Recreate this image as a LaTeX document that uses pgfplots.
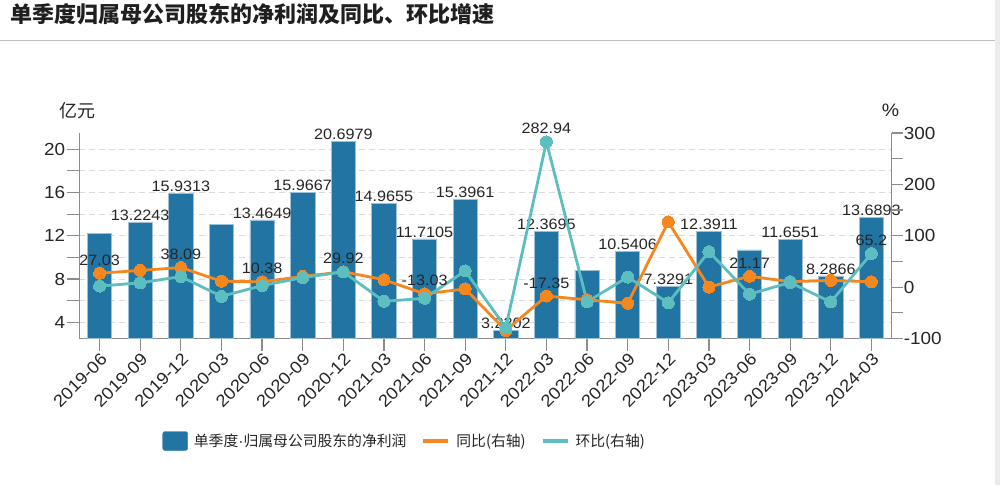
\documentclass[border=0pt]{standalone}
\usepackage{pgfplots}
\usepackage{pgfplotstable}
\pgfplotsset{compat=1.18}
\usepackage{fontspec}
\setmainfont{Liberation Sans}[FakeStretch=1.08]
\newfontfamily\cjk{Noto Sans CJK SC}
\definecolor{barblue}{RGB}{34,116,163}
\definecolor{yoy}{RGB}{245,135,31}
\definecolor{qoq}{RGB}{92,190,190}
\definecolor{axgray}{RGB}{140,140,140}
\definecolor{txt}{RGB}{38,38,38}
\definecolor{gridc}{RGB}{218,218,218}

\pgfplotstableread{
x bar
0 12.198
1 13.2243
2 15.9313
3 13.08
4 13.4649
5 15.9667
6 20.6979
7 14.9655
8 11.7105
9 15.3961
10 3.2302
11 12.3695
12 8.82
13 10.5406
14 7.3291
15 12.3911
16 10.69
17 11.6551
18 8.2866
19 13.6893
}\bars

\pgfplotstableread{
x y lab
1 13.2243 13.2243
2 15.9313 15.9313
4 13.4649 13.4649
5 15.9667 15.9667
6 20.6979 20.6979
7 14.9655 14.9655
8 11.7105 11.7105
9 15.3961 15.3961
10 3.2302 3.2302
11 12.3695 12.3695
13 10.5406 10.5406
14 7.3291 7.3291
15 12.3911 12.3911
17 11.6551 11.6551
18 8.2866 8.2866
19 13.6893 13.6893
}\barlabs

\pgfplotstableread{
x yoy qoq
0 27.03 2.0
1 32.5 8.41
2 38.09 20.47
3 11.5 -17.90
4 10.38 2.94
5 20.74 18.58
6 29.92 29.63
7 14.42 -27.70
8 -13.03 -21.75
9 -3.57 31.47
10 -84.39 -79.02
11 -17.35 282.94
12 -24.68 -28.70
13 -31.54 19.51
14 126.89 -30.47
15 0.17 69.07
16 21.17 -13.73
17 10.57 9.03
18 13.06 -28.90
19 10.48 65.20
}\rates

\pgfplotstableread{
x y lab
0 27.03 27.03
2 38.09 38.09
4 10.38 10.38
6 29.92 29.92
8 -13.03 -13.03
11 -17.35 -17.35
16 21.17 21.17
}\yoylabs

\pgfplotstableread{
x y lab
11 282.94 282.94
19 65.20 65.2
}\qoqlabs

\pgfplotsset{
  base/.style={
    at={(79.3pt,146.5pt)}, anchor=south west,
    scale only axis, width=812.4pt, height=205.5pt,
    xmin=-0.5, xmax=19.5,
    /pgf/number format/assume math mode=true,
  },
}
\tikzset{lbl/.style={font=\fontsize{15}{15}\selectfont, text=txt, inner sep=0pt, anchor=south}}

\begin{document}
\begin{tikzpicture}
\useasboundingbox (0,0) rectangle (1000pt,485pt);
\fill[white] (0,0) rectangle (1000pt,485pt);
\fill[black!8] (995pt,0) rectangle (1000pt,485pt);
\draw[black!25, line width=0.8pt] (0,445pt) -- (995pt,445pt);
\node[anchor=west, font=\cjk\bfseries\fontsize{22}{22}\selectfont, text=black!88] at (7pt,471pt) {单季度归属母公司股东的净利润及同比、环比增速};

% bars axis
\begin{axis}[base,
  ymin=2.5, ymax=21.5,
  axis y line*=left, axis x line*=bottom,
  axis line style={axgray, line width=1.2pt},
  tick style={axgray, line width=1.2pt},
  tick align=outside,
  major tick length=12pt,
  ytick={4,6,...,20},
  yticklabels={4,,8,,12,,16,,20},
  ymajorgrids,
  grid style={gridc, dash pattern=on 6pt off 4pt, line width=0.9pt},
  xtick={0,...,19},
  xticklabels={2019-06,2019-09,2019-12,2020-03,2020-06,2020-09,2020-12,2021-03,2021-06,2021-09,2021-12,2022-03,2022-06,2022-09,2022-12,2023-03,2023-06,2023-09,2023-12,2024-03},
  xticklabel style={rotate=45, anchor=north east, font=\fontsize{17}{17}\selectfont, text=txt, inner sep=1pt},
  yticklabel style={font=\fontsize{17.5}{17.5}\selectfont, text=txt, inner sep=2pt},
]
\addplot[ybar, bar width=24.3pt, fill=barblue, draw=barblue!45!white, line width=0.7pt] table[x=x,y=bar]{\bars};
\end{axis}

% bar labels axis
\begin{axis}[base, ymin=2.5, ymax=21.5, hide axis, clip=false]
\addplot[draw=none, nodes near coords, point meta=explicit symbolic,
  every node near coord/.append style={lbl, yshift=1.5pt}] table[x=x,y=y,meta=lab]{\barlabs};
\node[font=\cjk\fontsize{18}{18}\selectfont, text=txt] at (rel axis cs:-0.002,1.1085) {亿元};
\node[font=\fontsize{18}{18}\selectfont, text=txt] at (rel axis cs:0.9985,1.112) {\%};
\end{axis}

% rates axis
\begin{axis}[base,
  ymin=-100, ymax=300,
  axis y line*=right, axis x line=none,
  axis line style={axgray, line width=1.2pt},
  tick style={axgray, line width=1.2pt},
  tick align=outside,
  major tick length=11pt,
  ytick={-100,-50,...,300},
  yticklabels={-100,,0,,100,,200,,300},
  yticklabel style={font=\fontsize{17.5}{17.5}\selectfont, text=txt, inner sep=1pt},
  clip=false,
  legend columns=3,
  legend style={draw=none, fill=none, at={(0.4005,-0.4988)}, anchor=center,
    font=\cjk\fontsize{14.8}{15}\selectfont, text=txt,
    /tikz/every odd column/.append style={column sep=4pt},
    /tikz/every even column/.append style={column sep=13pt}},
  legend cell align=left,
]
\addlegendimage{legend image code/.code={\fill[barblue, rounded corners=2.5pt] (0pt,-9.5pt) rectangle (25pt,9.5pt);}}
\addlegendentry{单季度{\rmfamily\char"00B7}归属母公司股东的净利润}
\addlegendimage{legend image code/.code={\draw[yoy, line width=4pt] (0pt,0pt) -- (25pt,0pt);}}
\addlegendentry{同比(右轴)}
\addlegendimage{legend image code/.code={\draw[qoq, line width=4pt] (0pt,0pt) -- (25pt,0pt);}}
\addlegendentry{环比(右轴)}

\addplot[forget plot, yoy, line width=2.8pt, mark=*, mark size=6pt, mark options={fill=yoy, draw=yoy, line width=0pt}] table[x=x,y=yoy]{\rates};
\addplot[forget plot, qoq, line width=2.8pt, mark=*, mark size=6pt, mark options={fill=qoq, draw=qoq, line width=0pt}] table[x=x,y=qoq]{\rates};
\addplot[forget plot, draw=none, nodes near coords, point meta=explicit symbolic,
  every node near coord/.append style={lbl, yshift=7.5pt}] table[x=x,y=y,meta=lab]{\yoylabs};
\addplot[forget plot, draw=none, nodes near coords, point meta=explicit symbolic,
  every node near coord/.append style={lbl, yshift=7.5pt}] table[x=x,y=y,meta=lab]{\qoqlabs};
\end{axis}
\end{tikzpicture}
\end{document}
